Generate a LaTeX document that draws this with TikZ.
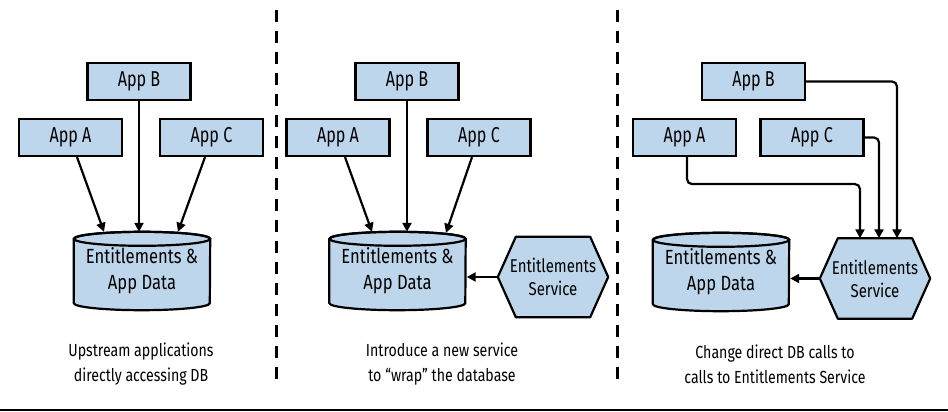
\documentclass[tikz,border=0pt]{standalone}
\usepackage{fontspec}
\setmainfont[FakeStretch=0.81]{Fira Sans}
\newfontfamily\appfont[FakeStretch=0.75]{Fira Sans}
\usetikzlibrary{arrows.meta,backgrounds}
\definecolor{boxblue}{RGB}{189,214,235}
\newcommand\drawdb[1]{%
  \filldraw[shapeline] ([yshift=-7pt]#1.north west) -- ([yshift=7pt]#1.south west)
    arc[start angle=180, end angle=360, x radius=68pt, y radius=7pt]
    -- ([yshift=-7pt]#1.north east)
    arc[start angle=0, end angle=180, x radius=68pt, y radius=7pt] -- cycle;
  \draw[line width=2.2pt] ([yshift=-7pt]#1.north) ellipse[x radius=68pt, y radius=7pt];}
\newcommand\drawhex[1]{%
  \filldraw[shapeline] (#1.west) -- ([xshift=18pt]#1.north west) -- ([xshift=-18pt]#1.north east)
    -- (#1.east) -- ([xshift=-18pt]#1.south east) -- ([xshift=18pt]#1.south west) -- cycle;}
\begin{document}
\begin{tikzpicture}[x=1pt,y=1pt,
  app/.style={draw, line width=2.2pt, fill=boxblue, minimum width=103pt, minimum height=37pt, inner sep=0pt, font=\appfont\fontsize{21.5}{24}\selectfont},
  dbnode/.style={minimum width=136pt, minimum height=78pt, inner sep=0pt, align=center, font=\fontsize{20.5}{26}\selectfont},
  hexnode/.style={minimum width=110pt, minimum height=80pt, inner sep=0pt, align=center, font=\fontsize{18.5}{23}\selectfont},
  arr/.style={line width=2.2pt, -{Triangle[length=9pt,width=9pt]}},
  shapeline/.style={line width=2.2pt, fill=boxblue, line join=round},
  caption/.style={align=center, font=\fontsize{17.5}{25}\selectfont},
  divider/.style={line width=3pt, dash pattern=on 12pt off 9pt},
]
\useasboundingbox (0,0) rectangle (948,412);

% panel 1
\node[app] (b1) at (139,330.5) {App B};
\node[app] (a1) at (70.5,274.5) {App A};
\node[app] (c1) at (211.5,274.5) {App C};
\node[dbnode] (db1) at (142,141) {Entitlements \&\\App Data};
% panel 2
\node[app] (b2) at (407,330.5) {App B};
\node[app] (a2) at (338,274.5) {App A};
\node[app] (c2) at (479,274.5) {App C};
\node[dbnode] (db2) at (397.5,141) {Entitlements \&\\App Data};
\node[hexnode] (hex2) at (553,135) {Entitlements\\Service};
% panel 3
\node[app] (b3) at (753.5,330.5) {App B};
\node[app] (a3) at (684.5,274.5) {App A};
\node[app] (c3) at (812,274.5) {App C};
\node[dbnode] (db3) at (721,140) {Entitlements \&\\App Data};
\node[hexnode] (hex3) at (875,133.5) {Entitlements\\Service};

\begin{pgfonlayer}{background}
  \drawdb{db1}
  \drawdb{db2}
  \drawdb{db3}
  \drawhex{hex2}
  \drawhex{hex3}
\end{pgfonlayer}

% connectors panel 1
\draw[arr] ([xshift=6.5pt]a1.south) -- ([xshift=-38pt]db1.north);
\draw[arr] (b1.south) -- (b1.south |- db1.north);
\draw[arr] ([xshift=-6.5pt]c1.south) -- ([xshift=36pt]db1.north);
% connectors panel 2
\draw[arr] ([xshift=7pt]a2.south) -- ([xshift=-25.5pt]db2.north);
\draw[arr] (b2.south) -- (b2.south |- db2.north);
\draw[arr] ([xshift=-7pt]c2.south) -- ([xshift=48.5pt,yshift=-1pt]db2.north);
\draw[arr] (hex2.west) -- ([xshift=1pt]hex2.west -| db2.east);
% connectors panel 3
\draw[arr, rounded corners=5pt] (b3.east) -| ([xshift=22pt]hex3.north);
\draw[arr, rounded corners=5pt] (c3.east) -| ([xshift=4pt]hex3.north);
\draw[arr, rounded corners=5pt] ([xshift=2.5pt]a3.south) -- ++(0,-27) -| ([xshift=-15pt]hex3.north);
\draw[arr] (hex3.west) -- ([xshift=1pt]hex3.west -| db3.east);

% captions
\node[caption] (cap1) at (141,47.5) {Upstream applications\\directly accessing DB};
\node[caption] (cap2) at (442,47.5) {Introduce a new service\\to “wrap” the database};
\node[caption] (cap3) at (775,47.5) {Change direct DB calls to\\calls to Entitlements Service};

% dividers and bottom rule
\draw[divider] (276.5,402) -- (276.5,26);
\draw[divider] (617,402) -- (617,26);
\draw[line width=2pt] (0,2) -- (948,2);
\end{tikzpicture}
\end{document}
